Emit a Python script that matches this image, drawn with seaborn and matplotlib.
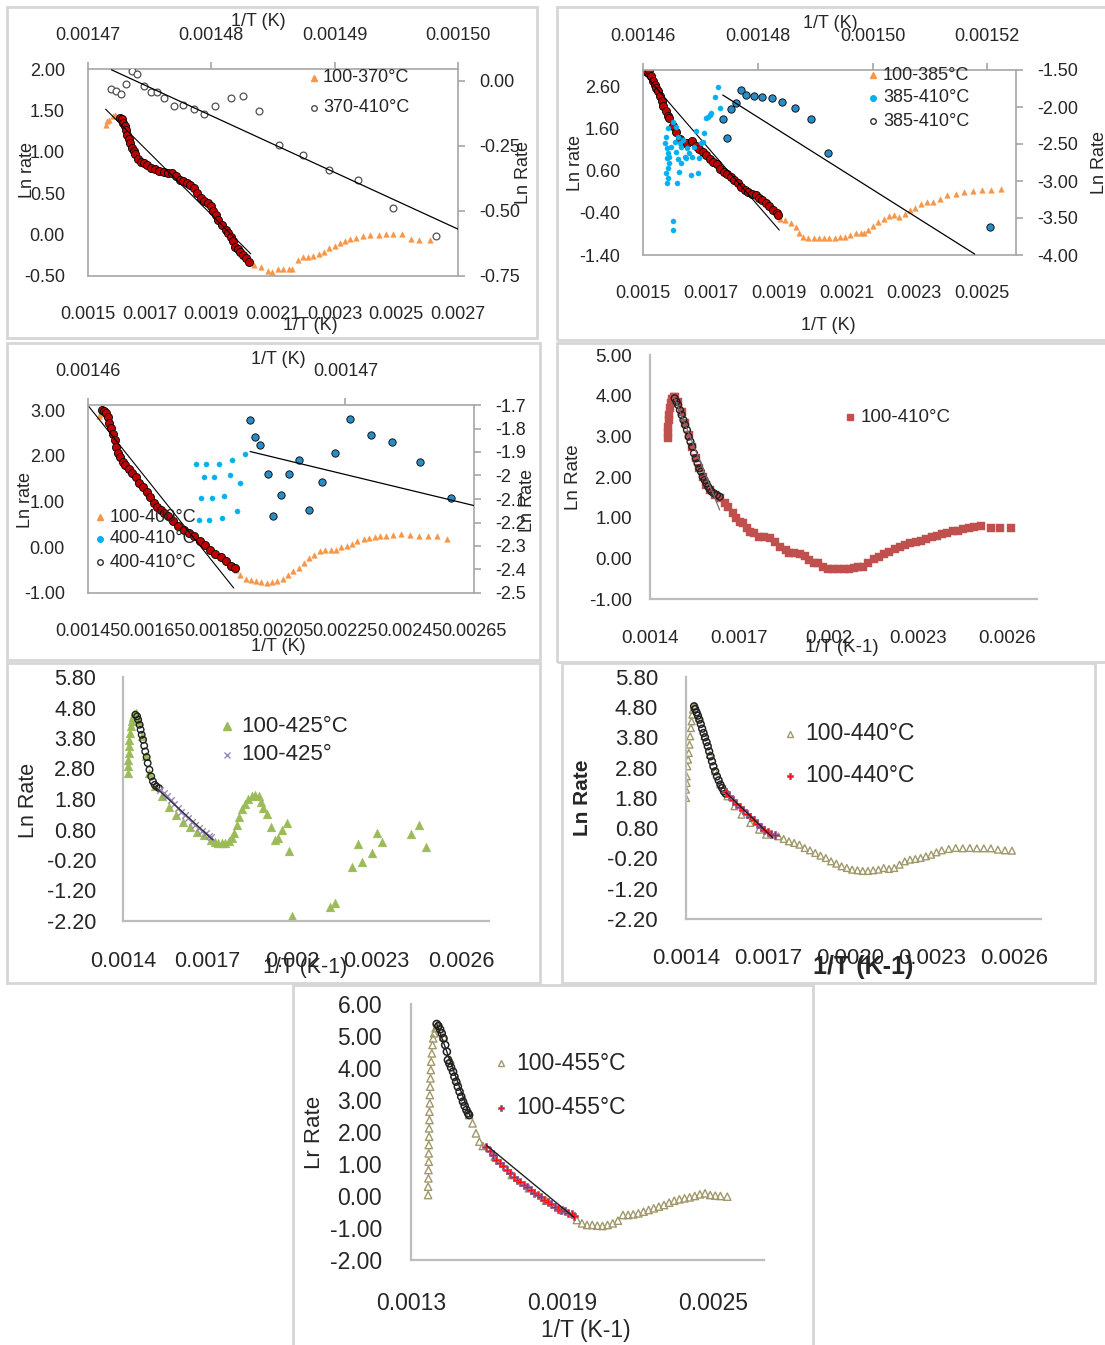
import numpy as np
import pandas as pd
import matplotlib
matplotlib.use("Agg")
import matplotlib.pyplot as plt
import seaborn as sns
from matplotlib.lines import Line2D
from matplotlib.patches import Rectangle

# ---------------- DATA ----------------
# Panel 1
p1_orange_x = [0.001557,0.001563,0.001569,0.001580,0.001586,0.001591,
               0.002037,0.002060,0.002083,0.002097,0.002117,0.002134,0.002151,0.002163,0.002180,0.002197,
               0.002214,0.002231,0.002249,0.002266,0.002283,0.002300,0.002317,0.002334,0.002351,0.002369,
               0.002391,0.002414,0.002443,0.002466,0.002489,0.002517,0.002546,0.002574,0.002609]
p1_orange_y = [1.32,1.37,1.39,1.43,1.45,1.43,
               -0.37,-0.39,-0.44,-0.45,-0.41,-0.42,-0.42,-0.41,-0.31,-0.27,
               -0.27,-0.26,-0.23,-0.21,-0.16,-0.14,-0.10,-0.08,-0.05,-0.04,
               -0.02,0.00,0.00,0.01,0.01,0.01,-0.05,-0.06,-0.07]
p1_red_x = [0.001603,0.001609,0.001614,0.001620,0.001623,0.001628,0.001633,0.001637,0.001643,0.001649,
            0.001654,0.001662,0.001671,0.001681,0.001692,0.001703,0.001717,0.001731,0.001746,0.001761,
            0.001774,0.001786,0.001797,0.001809,0.001820,0.001831,0.001843,0.001854,0.001866,0.001877,
            0.001889,0.001898,0.001906,0.001914,0.001923,0.001934,0.001946,0.001955,0.001963,0.001971,
            0.001978,0.001986,0.001994,0.002003,0.002012,0.002023]
p1_red_y = [1.405,1.393,1.353,1.312,1.264,1.199,1.151,1.110,1.049,1.009,
            0.968,0.916,0.876,0.859,0.835,0.807,0.787,0.766,0.754,0.746,
            0.738,0.706,0.665,0.645,0.625,0.604,0.564,0.503,0.443,0.402,
            0.382,0.342,0.281,0.240,0.180,0.119,0.058,0.018,-0.023,-0.083,
            -0.144,-0.176,-0.205,-0.245,-0.286,-0.326]
p1_trend_x = [0.001557, 0.002028]
p1_trend_y = [1.515, -0.233]
p1_circ_x = [0.0014719,0.0014723,0.0014727,0.0014731,0.0014736,0.0014740,0.0014745,0.0014751,0.0014756,0.0014762,
             0.0014770,0.0014777,0.0014786,0.0014794,0.0014803,0.0014816,0.0014826,0.0014839,0.0014855,0.0014874,
             0.0014895,0.0014919,0.0014947,0.0014982]
p1_circ_y = [-0.032,-0.039,-0.051,-0.013,0.039,0.026,-0.022,-0.045,-0.042,-0.068,
             -0.097,-0.094,-0.107,-0.129,-0.097,-0.068,-0.060,-0.116,-0.245,-0.286,
             -0.341,-0.382,-0.489,-0.598]
p1_ctrend_x = [0.0014719, 0.0015]
p1_ctrend_y = [0.042, -0.570]

# Panel 2
p2_orange_x = [0.001904,0.001920,0.001935,0.001951,0.001961,0.001972,0.001987,0.002003,0.002018,0.002034,
               0.002049,0.002065,0.002080,0.002096,0.002111,0.002127,0.002143,0.002153,0.002163,0.002179,
               0.002194,0.002210,0.002225,0.002241,0.002256,0.002272,0.002288,0.002303,0.002319,0.002339,
               0.002355,0.002376,0.002396,0.002422,0.002448,0.002474,0.002500,0.002526,0.002557]
p2_orange_y = [-0.532,-0.572,-0.635,-0.729,-0.887,-0.982,-1.006,-1.006,-1.006,-1.006,
               -1.006,-1.006,-0.982,-0.966,-0.927,-0.887,-0.887,-0.871,-0.808,-0.714,
               -0.611,-0.532,-0.477,-0.453,-0.493,-0.414,-0.335,-0.272,-0.193,-0.138,
               -0.138,-0.059,0.020,0.060,0.099,0.123,0.138,0.154,0.162]
p2_red_x = [0.001512,0.001519,0.001523,0.001529,0.001534,0.001539,0.001545,0.001550,0.001555,0.001560,
            0.001567,0.001573,0.001578,0.001588,0.001598,0.001609,0.001619,0.001630,0.001645,0.001655,
            0.001666,0.001676,0.001687,0.001697,0.001707,0.001718,0.001728,0.001738,0.001749,0.001759,
            0.001769,0.001780,0.001790,0.001801,0.001811,0.001821,0.001832,0.001842,0.001852,0.001863,
            0.001873,0.001883,0.001894,0.001899]
p2_red_y = [2.963,2.990,2.860,2.742,2.647,2.568,2.490,2.387,2.269,2.150,
            2.032,1.914,1.858,1.677,1.519,1.361,1.259,1.259,1.306,1.204,
            1.125,1.046,0.967,0.888,0.809,0.754,0.651,0.572,0.533,0.454,
            0.375,0.312,0.217,0.154,0.099,0.060,0.020,-0.035,-0.098,-0.161,
            -0.240,-0.319,-0.398,-0.453]
p2_trend_x = [0.0015, 0.001902]
p2_trend_y = [2.94, -0.808]
p2_lb_x = [0.0014730,0.0014725,0.0014735,0.0014716,0.0014710,0.0014707,0.0014692,0.0014701,0.0014689,0.0014680,
           0.0014673,0.0014667,0.0014661,0.0014658,0.0014652,0.0014643,0.0014640,0.0014638,0.0014642,0.0014644,
           0.0014642,0.0014646,0.0014643,0.0014640,0.0014644,0.0014642,0.0014658,0.0014661,0.0014662,0.0014660,
           0.0014667,0.0014675,0.0014683,0.0014695,0.0014652,0.0014652,0.0014646,0.0014649,0.0014655,0.0014664,
           0.0014670,0.0014676,0.0014686,0.0014698,0.0014704,0.0014713,0.0014719]
p2_lb_y = [-1.734,-1.869,-2.018,-2.108,-2.153,-2.347,-2.320,-2.491,-2.536,-2.626,
           -2.671,-2.536,-2.401,-2.266,-2.198,-2.288,-2.401,-2.491,-2.559,-2.626,
           -2.694,-2.761,-2.829,-2.897,-2.964,-3.032,-2.604,-2.707,-2.874,-3.023,
           -2.761,-2.694,-2.919,-2.888,-3.536,-3.662,-2.671,-2.536,-2.469,-2.491,
           -2.446,-2.559,-2.671,-2.694,-2.469,-2.131,-2.086]
p2_db_x = [0.0014739,0.0014747,0.0014753,0.0014762,0.0014771,0.0014780,0.0014793,0.0014808,0.0014825,0.0014842,
           0.0014865,0.0014892,0.0014923,0.0015205]
p2_db_y = [-2.167,-2.424,-2.032,-1.951,-1.770,-1.838,-1.847,-1.860,-1.874,-1.928,
           -2.009,-2.167,-2.617,-3.626]
p2_dtrend_x = [0.0014739, 0.0015178]
p2_dtrend_y = [-1.838, -3.987]

# Panel 3
p3_orange_x = [0.001483,0.001489,
               0.001910,0.001923,0.001940,0.001956,0.001973,0.001989,0.002006,0.002022,0.002039,0.002055,
               0.002072,0.002088,0.002105,0.002121,0.002138,0.002154,0.002171,0.002187,0.002204,0.002220,
               0.002237,0.002254,0.002270,0.002287,0.002309,0.002325,0.002342,0.002358,0.002375,0.002397,
               0.002424,0.002452,0.002479,0.002507,0.002534,0.002567]
p3_orange_y = [2.869,2.913,
               -0.491,-0.600,-0.695,-0.724,-0.745,-0.767,-0.782,-0.767,-0.745,-0.695,
               -0.600,-0.527,-0.455,-0.345,-0.236,-0.164,-0.091,-0.069,-0.069,-0.055,
               0.004,0.033,0.076,0.127,0.178,0.200,0.222,0.236,0.251,0.273,
               0.295,0.265,0.251,0.251,0.236,0.178]
p3_red_x = [0.001494,0.001500,0.001505,0.001511,0.001516,0.001522,0.001527,0.001533,0.001538,0.001544,
            0.001549,0.001558,0.001566,0.001577,0.001588,0.001599,0.001610,0.001621,0.001632,0.001643,
            0.001654,0.001665,0.001676,0.001687,0.001698,0.001714,0.001731,0.001747,0.001764,0.001780,
            0.001797,0.001813,0.001830,0.001846,0.001863,0.001879,0.001896,0.001907]
p3_red_y = [3.000,2.985,2.927,2.840,2.709,2.600,2.476,2.345,2.200,2.055,
            1.967,1.873,1.800,1.705,1.618,1.531,1.415,1.327,1.218,1.109,
            0.978,0.891,0.818,0.745,0.673,0.564,0.455,0.382,0.309,0.236,
            0.127,0.055,-0.055,-0.142,-0.215,-0.309,-0.404,-0.455]
p3_trend_x = [0.00145, 0.001903]
p3_trend_y = [3.10, -0.891]
p3_lb_x = [0.0014642,0.0014646,0.0014651,0.0014656,0.0014661,0.0014645,0.0014649,0.0014655,0.0014659,0.0014644,
           0.0014648,0.0014653,0.0014658,0.0014643,0.0014647,0.0014652]
p3_lb_y = [-1.952,-1.952,-1.951,-1.934,-1.910,-2.007,-2.007,-1.999,-2.030,-2.097,
           -2.097,-2.087,-2.149,-2.189,-2.189,-2.182]
p3_db_x = [0.0014663,0.0014665,0.0014667,0.0014670,0.0014672,0.0014675,0.0014678,0.0014682,0.0014686,0.0014691,
           0.0014696,0.0014702,0.0014710,0.0014718,0.0014729,0.0014741]
p3_db_y = [-1.764,-1.837,-1.870,-1.993,-2.174,-2.082,-1.995,-1.934,-2.146,-2.026,
           -1.905,-1.759,-1.827,-1.859,-1.941,-2.094]
p3_dtrend_x = [0.0014663, 0.001475]
p3_dtrend_y = [-1.898, -2.128]

# Panel 4
p4_red_x = [0.0014615,0.0014615,0.0014615,0.0014627,0.0014650,0.0014686,0.0014709,0.0014745,0.0014804,0.0014851,
            0.0014946,0.0015064,0.0015182,0.0015300,0.0015419,0.0015537,0.0015655,0.0015773,0.0015892,0.0016010,0.0016187,0.0016365,
            0.0016506,0.0016625,0.0016779,0.0016897,0.0017015,0.0017133,0.0017251,0.0017370,0.0017488,0.0017665,
            0.0017842,0.0018020,0.0018197,0.0018375,0.0018552,0.0018670,0.0018847,0.0019025,0.0019202,0.0019344,
            0.0019498,0.0019651,0.0019817,0.0019971,0.0020148,0.0020325,0.0020503,0.0020680,0.0020857,0.0020999,
            0.0021153,0.0021330,0.0021508,0.0021685,0.0021862,0.0022040,0.0022217,0.0022394,0.0022572,0.0022749,
            0.0022926,0.0023104,0.0023281,0.0023458,0.0023636,0.0023813,0.0023990,0.0024168,0.0024345,0.0024522,
            0.0024700,0.0024877,0.0025114,0.0025468,0.0025764,0.0026119]
p4_red_y = [2.951,3.074,3.238,3.402,3.525,3.689,3.811,3.910,3.975,3.959,
            3.852,3.607,3.320,3.033,2.746,2.459,2.213,2.008,1.803,1.680,1.557,1.475,
            1.352,1.270,1.107,0.984,0.902,0.861,0.738,0.656,0.615,0.533,
            0.516,0.492,0.410,0.287,0.205,0.139,0.123,0.107,0.057,-0.041,
            -0.107,-0.123,-0.205,-0.270,-0.270,-0.270,-0.270,-0.270,-0.230,-0.205,
            -0.205,-0.107,-0.025,0.025,0.107,0.164,0.221,0.270,0.328,0.369,
            0.410,0.426,0.467,0.516,0.549,0.598,0.615,0.680,0.680,0.713,
            0.738,0.762,0.795,0.754,0.754,0.754]
p4_circ_x = [0.0014828,0.0014887,0.0014946,0.0015005,0.0015064,0.0015123,0.0015182,0.0015241,0.0015300,0.0015360,
             0.0015419,0.0015478,0.0015537,0.0015596,0.0015655,0.0015714,0.0015773,0.0015833,0.0015892,0.0015951,
             0.0016010,0.0016069,0.0016152,0.0016246,0.0016340]
p4_circ_y = [3.934,3.852,3.770,3.648,3.525,3.402,3.279,3.156,2.992,2.869,
             2.746,2.582,2.459,2.336,2.213,2.131,2.008,1.926,1.844,1.762,
             1.697,1.639,1.598,1.557,1.516]
p4_trend_x = [0.0014828, 0.001634]
p4_trend_y = [3.934, 1.189]

# Panel 5
p5_green_x = [0.0014188,0.0014188,0.0014188,0.0014213,0.0014213,0.0014225,0.0014251,0.0014276,0.0014313,0.0014351,0.0014401,0.0014451,
              0.0014564,0.0014689,0.0014814,0.0014939,0.0015127,0.0015378,0.0015628,0.0015879,0.0016129,0.0016380,0.0016630,0.0016881,0.0017132,
              0.0017257,0.0017382,0.0017507,0.0017633,0.0017758,0.0017858,0.0017946,0.0018033,0.0018134,0.0018234,
              0.0018321,0.0018447,0.0018572,0.0018697,0.0018823,0.0018910,0.0018985,0.0019098,0.0019261,0.0019386,
              0.0019511,0.0019637,0.0019825,0.0019912,0.0020012,0.0021365,0.0021516,0.0022142,0.0022330,0.0022493,
              0.0022831,0.0023019,0.0023182,0.0024246,0.0024497,0.0024772]
p5_green_y = [2.648,2.867,3.086,3.305,3.524,3.743,3.961,4.180,4.344,4.487,4.596,4.618,
              4.344,3.852,3.195,2.648,2.210,1.882,1.554,1.280,1.061,0.897,0.733,0.624,0.459,
              0.405,0.372,0.372,0.372,0.437,0.514,0.700,0.952,1.225,1.466,
              1.641,1.795,1.904,1.937,1.882,1.718,1.499,1.313,0.897,0.459,
              0.514,0.788,1.007,0.109,-2.036,-1.729,-1.620,-0.438,0.328,-0.252,
              0.022,0.700,0.394,0.656,0.952,0.219]
p5_circ_x = [0.0014438,0.0014501,0.0014539,0.0014589,0.0014626,0.0014664,0.0014714,0.0014752,0.0014789,0.0014839,
             0.0014877,0.0014939,0.0015002,0.0015065,0.0015127,0.0015190,0.0015278]
p5_circ_y = [4.563,4.509,4.399,4.235,4.071,3.907,3.743,3.546,3.360,3.174,
             2.976,2.758,2.539,2.374,2.265,2.210,2.156]
p5_x_x = [0.0015315,0.0015440,0.0015566,0.0015691,0.0015816,0.0015941,0.0016067,0.0016192,0.0016317,0.0016443,
          0.0016568,0.0016693,0.0016818,0.0016944,0.0017069,0.0017132]
p5_x_y = [2.101,1.992,1.882,1.751,1.641,1.499,1.390,1.280,1.171,1.061,
          0.952,0.842,0.766,0.678,0.591,0.547]
p5_trend_x = [0.0015127, 0.0017194]
p5_trend_y = [2.210, 0.459]

# Panel 6
p6_tri_x = [0.0014000,0.0014000,0.0014026,0.0014026,0.0014051,0.0014077,0.0014103,0.0014129,0.0014154,0.0014180,0.0014206,0.0014232,0.0014257,0.0014296,0.0014347,
            0.0014489,0.0014682,0.0014875,0.0015068,0.0015260,0.0015518,0.0015775,0.0016032,0.0016354,0.0016675,0.0016933,
            0.0017383,0.0017576,0.0017769,0.0017961,0.0018154,0.0018347,0.0018540,0.0018733,0.0018926,0.0019119,
            0.0019312,0.0019505,0.0019698,0.0019891,0.0020084,0.0020277,0.0020470,0.0020663,0.0020855,0.0021048,
            0.0021241,0.0021434,0.0021627,0.0021820,0.0022013,0.0022206,0.0022399,0.0022592,0.0022785,0.0022978,
            0.0023171,0.0023364,0.0023621,0.0023878,0.0024135,0.0024393,0.0024650,0.0024907,0.0025164,0.0025421,
            0.0025679,0.0025936]
p6_tri_y = [1.800,2.076,2.296,2.516,2.847,3.067,3.288,3.563,3.839,4.114,4.334,4.555,4.720,4.830,4.830,
            4.445,3.839,3.233,2.682,2.241,1.855,1.525,1.249,0.974,0.753,0.588,
            0.533,0.445,0.368,0.313,0.257,0.147,0.070,-0.018,-0.106,-0.183,
            -0.294,-0.371,-0.459,-0.514,-0.569,-0.591,-0.613,-0.613,-0.591,-0.569,
            -0.514,-0.547,-0.514,-0.404,-0.294,-0.238,-0.216,-0.183,-0.128,-0.073,
            0.004,0.070,0.114,0.147,0.136,0.147,0.136,0.136,0.136,0.092,
            0.070,0.059]
p6_circ_x = [0.0014296,0.0014334,0.0014386,0.0014437,0.0014489,0.0014540,0.0014592,0.0014643,0.0014695,0.0014750,
             0.0014797,0.0014849,0.0014900,0.0014952,0.0015003,0.0015068,0.0015132,0.0015196,0.0015260,0.0015325,
             0.0015389,0.0015453]
p6_circ_y = [4.830,4.742,4.632,4.522,4.390,4.246,4.092,3.949,3.806,3.651,
             3.508,3.343,3.177,3.012,2.847,2.682,2.516,2.384,2.241,2.131,
             2.020,1.943]
p6_plus_x = [0.0015453,0.0015582,0.0015711,0.0015839,0.0015968,0.0016097,0.0016225,0.0016354,0.0016482,0.0016611,
             0.0016740,0.0016868,0.0016997,0.0017125,0.0017254]
p6_plus_y = [1.987,1.855,1.745,1.613,1.503,1.392,1.282,1.172,1.062,0.952,
             0.841,0.753,0.665,0.621,0.588]
p6_trend_x = [0.0015453, 0.001719]
p6_trend_y = [1.987, 0.478]

# Panel 7
p7_tri_x = [0.0013678,0.0013678,0.0013692,0.0013692,0.0013705,0.0013705,0.0013705,0.0013719,0.0013719,0.0013732,
            0.0013732,0.0013746,0.0013746,0.0013759,0.0013773,0.0013786,0.0013800,0.0013827,0.0013854,0.0013881,
            0.0013922,0.0013976,0.0014044,
            0.0014288,0.0014559,0.0014831,0.0015102,0.0015305,
            0.0015441,0.0015576,0.0015712,0.0015848,
            0.0016322,0.0017000,0.0017678,0.0018356,0.0019034,
            0.0019577,0.0019780,0.0019983,0.0020187,0.0020390,0.0020594,0.0020797,0.0021000,0.0021204,0.0021407,
            0.0021611,0.0021814,0.0022017,0.0022221,0.0022424,0.0022628,0.0022831,0.0023034,0.0023238,0.0023441,
            0.0023645,0.0023848,0.0024051,0.0024255,0.0024458,0.0024662,0.0024865,0.0025068,0.0025272,0.0025543]
p7_tri_y = [0.031,0.292,0.552,0.813,1.073,1.333,1.594,1.854,2.115,2.375,
            2.635,2.896,3.156,3.417,3.677,3.938,4.198,4.458,4.719,4.927,
            5.083,5.240,5.344,
            4.979,4.250,3.625,3.000,2.531,
            2.271,1.958,1.698,1.563,
            1.229,0.656,0.240,-0.146,-0.438,
            -0.750,-0.854,-0.906,-0.906,-0.927,-0.938,-0.906,-0.854,-0.771,-0.594,
            -0.594,-0.573,-0.542,-0.490,-0.438,-0.385,-0.333,-0.281,-0.208,-0.146,
            -0.104,-0.073,-0.042,0.000,0.052,0.083,0.031,0.010,0.000,-0.021]
p7_circ_x = [0.0014017,0.0014085,0.0014153,0.0014220,0.0014288,0.0014356,0.0014424,0.0014464,0.0014519,0.0014587,
             0.0014668,0.0014722,0.0014790,0.0014858,0.0014926,0.0014993,0.0015061,0.0015129,0.0015197,0.0015265,
             0.0015305]
p7_circ_y = [5.375,5.313,5.208,5.083,4.927,4.719,4.510,4.250,4.146,4.021,
             3.885,3.729,3.573,3.417,3.260,3.104,2.948,2.813,2.688,2.583,
             2.531]
p7_ctrend_x = [0.0014017, 0.0015346]
p7_ctrend_y = [5.396, 2.479]
p7_plus_x = [0.0015983,0.0016119,0.0016254,0.0016390,0.0016526,0.0016661,0.0016797,0.0016932,0.0017068,0.0017204,
             0.0017339,0.0017475,0.0017610,0.0017746,0.0017882,0.0018017,0.0018153,0.0018288,0.0018424,0.0018560,
             0.0018695,0.0018831,0.0018966,0.0019102,0.0019238,0.0019373,0.0019468]
p7_plus_y = [1.542,1.417,1.281,1.125,1.021,0.938,0.813,0.708,0.604,0.500,
             0.448,0.344,0.271,0.188,0.104,0.031,-0.042,-0.125,-0.177,-0.250,
             -0.333,-0.417,-0.438,-0.469,-0.521,-0.563,-0.625]
p7_trend_x = [0.0015983, 0.0019468]
p7_trend_y = [1.594, -0.667]

# Tick values / labels
p1_yl_t = [-0.5, 0.0, 0.5, 1.0, 1.5, 2.0]; p1_yl_l = ["-0.50", "0.00", "0.50", "1.00", "1.50", "2.00"]
p1_yr_t = [-0.75, -0.5, -0.25, 0.0]; p1_yr_l = ["-0.75", "-0.50", "-0.25", "0.00"]
p1_xb_t = [0.0015, 0.0017, 0.0019, 0.0021, 0.0023, 0.0025, 0.0027]
p1_xb_l = ["0.0015", "0.0017", "0.0019", "0.0021", "0.0023", "0.0025", "0.0027"]
p1_xt_t = [0.00147, 0.00148, 0.00149, 0.00150]; p1_xt_l = ["0.00147", "0.00148", "0.00149", "0.00150"]

p2_yl_t = [-1.4, -0.4, 0.6, 1.6, 2.6]; p2_yl_l = ["-1.40", "-0.40", "0.60", "1.60", "2.60"]
p2_yr_t = [-4.0, -3.5, -3.0, -2.5, -2.0, -1.5]; p2_yr_l = ["-4.00", "-3.50", "-3.00", "-2.50", "-2.00", "-1.50"]
p2_xb_t = [0.0015, 0.0017, 0.0019, 0.0021, 0.0023, 0.0025]
p2_xb_l = ["0.0015", "0.0017", "0.0019", "0.0021", "0.0023", "0.0025"]
p2_xt_t = [0.00146, 0.00148, 0.00150, 0.00152]; p2_xt_l = ["0.00146", "0.00148", "0.00150", "0.00152"]

p3_yl_t = [-1.0, 0.0, 1.0, 2.0, 3.0]; p3_yl_l = ["-1.00", "0.00", "1.00", "2.00", "3.00"]
p3_yr_t = [-2.5, -2.4, -2.3, -2.2, -2.1, -2.0, -1.9, -1.8, -1.7]
p3_yr_l = ["-2.5", "-2.4", "-2.3", "-2.2", "-2.1", "-2", "-1.9", "-1.8", "-1.7"]
p3_xb_t = [0.00145, 0.00165, 0.00185, 0.00205, 0.00225, 0.00245, 0.00265]
p3_xb_l = ["0.00145", "0.00165", "0.00185", "0.00205", "0.00225", "0.00245", "0.00265"]
p3_xt_t = [0.00146, 0.00147]; p3_xt_l = ["0.00146", "0.00147"]

p4_y_t = [-1, 0, 1, 2, 3, 4, 5]; p4_y_l = ["-1.00", "0.00", "1.00", "2.00", "3.00", "4.00", "5.00"]
p4_x_t = [0.0014, 0.0017, 0.0020, 0.0023, 0.0026]; p4_x_l = ["0.0014", "0.0017", "0.002", "0.0023", "0.0026"]
p5_y_t = [-2.2, -1.2, -0.2, 0.8, 1.8, 2.8, 3.8, 4.8, 5.8]
p5_y_l = ["-2.20", "-1.20", "-0.20", "0.80", "1.80", "2.80", "3.80", "4.80", "5.80"]
p5_x_t = [0.0014, 0.0017, 0.0020, 0.0023, 0.0026]; p5_x_l = ["0.0014", "0.0017", "0.002", "0.0023", "0.0026"]
p6_x_l = ["0.0014", "0.0017", "0.0020", "0.0023", "0.0026"]
p7_y_t = [-2, -1, 0, 1, 2, 3, 4, 5, 6]
p7_y_l = ["-2.00", "-1.00", "0.00", "1.00", "2.00", "3.00", "4.00", "5.00", "6.00"]
p7_x_t = [0.0013, 0.0019, 0.0025]; p7_x_l = ["0.0013", "0.0019", "0.0025"]

# ---------------- STYLE ----------------
sns.set_style("white")
plt.rcParams['font.family'] = ['Liberation Sans', 'DejaVu Sans']

ORANGE = '#F79646'; DARKRED = '#C00000'; LBLUE = '#00B0F0'; DBLUE = '#2A8CC4'
RED4 = '#C0504D'; GREEN = '#9BBB59'; PURPLE = '#9A87C0'; OLIVE = '#A0986A'
FRAME = '#a6a6a6'; AXC = '#bdbdbd'; BORDER = '#d6d6d6'

W, H = 1105, 1345
fig = plt.figure(figsize=(W / 100, H / 100), dpi=100)
fig.patch.set_facecolor('white')


def rect(l, t, r, b):
    return [l / W, 1 - b / H, (r - l) / W, (b - t) / H]


def pt(px):
    return px * 0.72


def ftext(x, y, s, fs, rot=0, ha='center', **kw):
    fig.text(x / W, 1 - y / H, s, fontsize=fs, rotation=rot, ha=ha, va='center', **kw)


def border(l, t, r, b):
    fig.add_artist(Rectangle((l / W, 1 - b / H), (r - l) / W, (b - t) / H, transform=fig.transFigure,
                             fill=False, edgecolor=BORDER, linewidth=2))


def scat(ax, x, y, **kw):
    sns.scatterplot(x=x, y=y, ax=ax, legend=False, **kw)


def trend(ax, x, y, color='black', lw=0.9):
    sns.lineplot(x=x, y=y, ax=ax, color=color, linewidth=lw, sort=False, estimator=None, legend=False)


def legend(entries, mx, tx, ys, fs):
    for (mk, lab), y in zip(entries, ys):
        fig.add_artist(Line2D([mx / W], [1 - y / H], transform=fig.transFigure, linestyle='none', **mk))
        ftext(tx, y, lab, fs, ha='left')


def boxed(l, t, r, b, fs):
    ax = fig.add_axes(rect(l, t, r, b))
    ax2 = fig.add_axes(rect(l, t, r, b), facecolor='none')
    for s in ax.spines.values():
        s.set_color(FRAME); s.set_linewidth(1.2)
    for s in ax2.spines.values():
        s.set_visible(False)
    ax.tick_params(axis='both', length=0, labelsize=fs)
    ax.tick_params(axis='y', pad=pt(23))
    ax.tick_params(axis='x', pad=pt(30))
    ax2.xaxis.set_ticks_position('top'); ax2.xaxis.set_label_position('top')
    ax2.yaxis.set_ticks_position('right'); ax2.yaxis.set_label_position('right')
    ax2.tick_params(direction='out', length=5, color=FRAME, width=1.2, labelsize=fs)
    ax2.tick_params(axis='y', pad=pt(14))
    ax2.tick_params(axis='x', pad=pt(18))
    return ax, ax2


def open_ax(l, t, r, b, fs, ypad, xpad):
    ax = fig.add_axes(rect(l, t, r, b))
    ax.spines['top'].set_visible(False); ax.spines['right'].set_visible(False)
    for s in ['left', 'bottom']:
        ax.spines[s].set_color(AXC); ax.spines[s].set_linewidth(1.6)
    ax.tick_params(direction='out', length=5, width=1.4, color=AXC, labelsize=fs)
    ax.tick_params(axis='y', pad=pt(ypad))
    ax.tick_params(axis='x', pad=pt(xpad))
    return ax


def ticks(ax, xt, xl, yt, yl, xlim, ylim):
    ax.set_xlim(*xlim); ax.set_ylim(*ylim)
    ax.set_xticks(xt); ax.set_xticklabels(xl)
    ax.set_yticks(yt); ax.set_yticklabels(yl)
    ax.set_xlabel(''); ax.set_ylabel('')


tri_small = dict(marker='^', s=16, color=ORANGE, edgecolor=ORANGE, linewidth=0.3)
red_dot = dict(marker='o', s=34, color=DARKRED, edgecolor='black', linewidth=0.6)
open_c = dict(marker='o', s=24, color='white', edgecolor='#505050', linewidth=0.9)
lb_dot = dict(marker='o', s=14, color=LBLUE, edgecolor=LBLUE, linewidth=0.2)
db_dot = dict(marker='o', s=28, color=DBLUE, edgecolor='black', linewidth=0.6)

# ---------------- PANEL 1 ----------------
border(7, 7, 537, 338)
ax, ax2 = boxed(88, 69, 458, 276, 13)
scat(ax, p1_orange_x, p1_orange_y, **tri_small)
scat(ax, p1_red_x, p1_red_y, **red_dot)
trend(ax, p1_trend_x, p1_trend_y, lw=0.8)
ticks(ax, p1_xb_t, p1_xb_l, p1_yl_t, p1_yl_l, (0.0015, 0.0027), (-0.5, 2.0))
scat(ax2, p1_circ_x, p1_circ_y, **open_c)
trend(ax2, p1_ctrend_x, p1_ctrend_y)
ticks(ax2, p1_xt_t, p1_xt_l, p1_yr_t, p1_yr_l, (0.00147, 0.00150), (-0.75, 0.045))
ftext(258, 22, "1/T (K)", 13)
ftext(310, 326, "1/T (K)", 13)
ftext(27, 170, "Ln rate", 13, rot=90)
ftext(524, 172, "Ln Rate", 13, rot=90)
legend([(dict(marker='^', markersize=4, color=ORANGE), "100-370°C"),
        (dict(marker='o', markersize=4, markerfacecolor='white', markeredgecolor='#505050'), "370-410°C")],
       314, 323, [78, 108], 13)

# ---------------- PANEL 2 ----------------
border(557, 7, 1110, 340)
ax, ax2 = boxed(643, 70, 1016, 255, 13)
scat(ax, p2_orange_x, p2_orange_y, **tri_small)
scat(ax, p2_red_x, p2_red_y, **red_dot)
trend(ax, p2_trend_x, p2_trend_y, lw=0.8)
ticks(ax, p2_xb_t, p2_xb_l, p2_yl_t, p2_yl_l, (0.0015, 0.0026), (-1.4, 3.0))
scat(ax2, p2_lb_x, p2_lb_y, **lb_dot)
scat(ax2, p2_db_x, p2_db_y, **db_dot)
trend(ax2, p2_dtrend_x, p2_dtrend_y)
ticks(ax2, p2_xt_t, p2_xt_l, p2_yr_t, p2_yr_l, (0.00146, 0.001525), (-4.0, -1.5))
ftext(830, 24, "1/T (K)", 13)
ftext(828, 326, "1/T (K)", 13)
ftext(576, 163, "Ln rate", 13, rot=90)
ftext(1099, 163, "Ln Rate", 13, rot=90)
legend([(dict(marker='^', markersize=4, color=ORANGE), "100-385°C"),
        (dict(marker='o', markersize=4, color=LBLUE), "385-410°C"),
        (dict(marker='o', markersize=4, markerfacecolor='white', markeredgecolor='#303030'), "385-410°C")],
       873, 883, [75, 98, 121], 13)

# ---------------- PANEL 3 ----------------
border(7, 343, 540, 660)
ax, ax2 = boxed(88, 405, 474, 593, 13)
scat(ax, p3_orange_x, p3_orange_y, **tri_small)
scat(ax, p3_red_x, p3_red_y, **red_dot)
trend(ax, p3_trend_x, p3_trend_y, lw=0.8)
ticks(ax, p3_xb_t, p3_xb_l, p3_yl_t, p3_yl_l, (0.00145, 0.00265), (-1.0, 3.11))
scat(ax2, p3_lb_x, p3_lb_y, **lb_dot)
scat(ax2, p3_db_x, p3_db_y, **db_dot)
trend(ax2, p3_dtrend_x, p3_dtrend_y)
ticks(ax2, p3_xt_t, p3_xt_l, p3_yr_t, p3_yr_l, (0.00146, 0.001475), (-2.5, -1.7))
ftext(278, 360, "1/T (K)", 13)
ftext(278, 647, "1/T (K)", 13)
ftext(25, 500, "Ln rate", 13, rot=90)
ftext(528, 500, "Ln Rate", 13, rot=90)
legend([(dict(marker='^', markersize=4, color=ORANGE), "100-400°C"),
        (dict(marker='o', markersize=4, color=LBLUE), "400-410°C"),
        (dict(marker='o', markersize=4, markerfacecolor='white', markeredgecolor='#303030'), "400-410°C")],
       100, 110, [517, 539, 562], 13)

# ---------------- PANEL 4 ----------------
border(557, 343, 1110, 662)
ax = open_ax(650, 355, 1037, 599, 13.5, 11, 24)
scat(ax, p4_red_x, p4_red_y, marker='s', s=36, color=RED4, edgecolor=RED4, linewidth=0.3)
scat(ax, p4_circ_x, p4_circ_y, marker='o', s=24, color='none', edgecolor='#222222', linewidth=1.0)
trend(ax, p4_trend_x, p4_trend_y, color='#707070', lw=0.9)
ticks(ax, p4_x_t, p4_x_l, p4_y_t, p4_y_l, (0.0014, 0.0027), (-1, 5))
ftext(574, 477, "Ln Rate", 13.5, rot=90)
ftext(842, 648, "1/T (K-1)", 13.5)
legend([(dict(marker='s', markersize=5, color=RED4), "100-410°C")], 850, 861, [417], 13.5)

# ---------------- PANEL 5 ----------------
border(7, 663, 540, 983)
ax = open_ax(123, 677, 489, 921, 15.5, 20, 23)
scat(ax, p5_green_x, p5_green_y, marker='^', s=40, color=GREEN, edgecolor=GREEN, linewidth=0.3)
scat(ax, p5_circ_x, p5_circ_y, marker='o', s=22, color='none', edgecolor='#202020', linewidth=1.0)
scat(ax, p5_x_x, p5_x_y, marker='x', s=22, color=PURPLE, linewidth=1.0)
trend(ax, p5_trend_x, p5_trend_y, color='#303030', lw=1.0)
ticks(ax, p5_x_t, p5_x_l, p5_y_t, p5_y_l, (0.0014, 0.0027), (-2.2, 5.8))
ftext(28, 800, "Ln Rate", 15.5, rot=90)
ftext(305, 968, "1/T (K-1)", 15.5)
legend([(dict(marker='^', markersize=6, color=GREEN), "100-425°C"),
        (dict(marker='x', markersize=5, color=PURPLE, markeredgewidth=1), "100-425°")],
       227, 241, [726, 755], 16)

# ---------------- PANEL 6 ----------------
border(562, 663, 1095, 983)
ax = open_ax(686, 677, 1041, 919, 16, 21, 22)
scat(ax, p6_tri_x, p6_tri_y, marker='^', s=24, color='none', edgecolor=OLIVE, linewidth=1.0)
scat(ax, p6_circ_x, p6_circ_y, marker='o', s=24, color='none', edgecolor='#202020', linewidth=1.1)
scat(ax, p6_plus_x, p6_plus_y, marker='P', s=26, color='#FF1010', edgecolor='#8064A2', linewidth=0.5)
trend(ax, p6_trend_x, p6_trend_y, color='#202020', lw=1.0)
ticks(ax, p5_x_t, p6_x_l, p5_y_t, p5_y_l, (0.0014, 0.0027), (-2.2, 5.8))
ftext(583, 798, "Ln Rate", 15, rot=90, fontweight='bold')
ftext(863, 967, "1/T (K-1)", 18, fontweight='bold')
legend([(dict(marker='^', markersize=5, markerfacecolor='none', markeredgecolor=OLIVE, markeredgewidth=1), "100-440°C"),
        (dict(marker='P', markersize=5, markerfacecolor='#FF1010', markeredgecolor='#8064A2', markeredgewidth=0.5), "100-440°C")],
       790, 805, [734, 776], 16.5)

# ---------------- PANEL 7 ----------------
border(293, 985, 813, 1350)
ax = open_ax(411, 1004, 764, 1260, 16.5, 22, 25)
scat(ax, p7_tri_x, p7_tri_y, marker='^', s=28, color='none', edgecolor=OLIVE, linewidth=1.0)
scat(ax, p7_circ_x, p7_circ_y, marker='o', s=26, color='none', edgecolor='#202020', linewidth=1.1)
trend(ax, p7_ctrend_x, p7_ctrend_y, color='#202020', lw=1.0)
scat(ax, p7_plus_x, p7_plus_y, marker='P', s=26, color='#FF1010', edgecolor='#8064A2', linewidth=0.5)
trend(ax, p7_trend_x, p7_trend_y, color='#202020', lw=1.0)
ticks(ax, p7_x_t, p7_x_l, p7_y_t, p7_y_l, (0.0013, 0.0027), (-2, 6))
ftext(315, 1132, "Lr Rate", 16, rot=90)
ftext(586, 1330, "1/T (K-1)", 16.5)
legend([(dict(marker='^', markersize=5, markerfacecolor='none', markeredgecolor=OLIVE, markeredgewidth=1), "100-455°C"),
        (dict(marker='P', markersize=5, markerfacecolor='#FF1010', markeredgecolor='#8064A2', markeredgewidth=0.5), "100-455°C")],
       501, 516, [1063, 1108], 16.5)

fig.savefig("out.png", dpi=100, facecolor='white')
